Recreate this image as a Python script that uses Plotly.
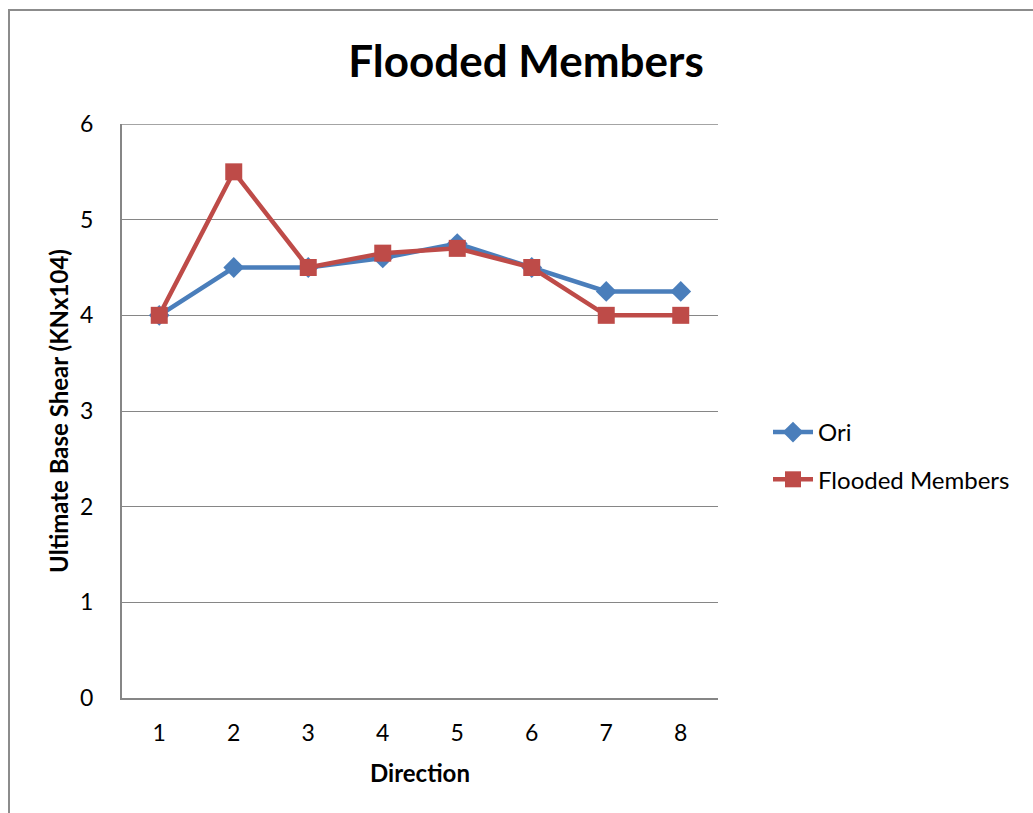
import plotly.graph_objects as go

# Ultimate base shear by loading direction
directions = [1, 2, 3, 4, 5, 6, 7, 8]
ori = [4.0, 4.5, 4.5, 4.6, 4.75, 4.5, 4.25, 4.25]
flooded = [4.0, 5.5, 4.5, 4.65, 4.7, 4.5, 4.0, 4.0]
y_ticks = [0, 1, 2, 3, 4, 5, 6]

W, H = 1033, 813
L, R, T, B = 122, 718, 124, 698
FONT = "Lato, 'Open Sans', sans-serif"
GRID = "#868686"

fig = go.Figure()
fig.add_trace(go.Scatter(
    x=directions, y=ori, name="Ori", mode="lines+markers",
    line=dict(color="#4A7EBB", width=4.5),
    marker=dict(symbol="diamond", size=16, color="#4A7EBB"),
    legendgroup="a",
))
fig.add_trace(go.Scatter(
    x=directions, y=flooded, name="Flooded Members", mode="lines+markers",
    line=dict(color="#BE4B48", width=4.5),
    marker=dict(symbol="square", size=17, color="#BE4B48"),
    legendgroup="b",
))

pw, ph = R - L, B - T
fig.update_layout(
    width=W, height=H,
    margin=dict(l=L, r=W - R, t=T, b=H - B),
    paper_bgcolor="white", plot_bgcolor="white",
    font=dict(family=FONT, color="black", size=24),
    title=dict(text="<b>Flooded Members</b>", x=(526 - L) / pw, xref="paper",
               xanchor="center", y=1 - 62 / H, yanchor="middle",
               font=dict(size=44, family=FONT)),
    xaxis=dict(range=[0.5, 8.5], tickvals=directions, showgrid=False,
               showline=True, linecolor=GRID, linewidth=2, ticks="",
               zeroline=False, tickfont=dict(size=23), ticklabelstandoff=13,
               title=dict(text="<b>Direction</b>", font=dict(size=24), standoff=21)),
    yaxis=dict(range=[0, 6], tickvals=y_ticks, showgrid=True, gridcolor=GRID,
               gridwidth=1.3, showline=True, linecolor=GRID, linewidth=2,
               ticks="", zeroline=False, tickfont=dict(size=23),
               ticklabelstandoff=22,
               title=dict(text="<b>Ultimate Base Shear (KNx104)</b>",
                          font=dict(size=24), standoff=5)),
    legend=dict(x=(768 - L) / pw, xanchor="left", y=(B - 410) / ph, yanchor="top",
                font=dict(size=24), traceorder="grouped", tracegroupgap=13,
                bgcolor="rgba(0,0,0,0)", itemwidth=40),
    shapes=[
        dict(type="line", xref="paper", yref="y", x0=0, x1=1, y0=6, y1=6,
             line=dict(color=GRID, width=1.3)),
        dict(type="rect", xref="paper", yref="paper",
             x0=(9 - L) / pw, x1=(W + 20 - L) / pw,
             y0=(B - (H + 20)) / ph, y1=(B - 10) / ph,
             line=dict(color="#8c8c8c", width=2), fillcolor="rgba(0,0,0,0)",
             layer="below"),
    ],
)

fig.write_html("out.html")
